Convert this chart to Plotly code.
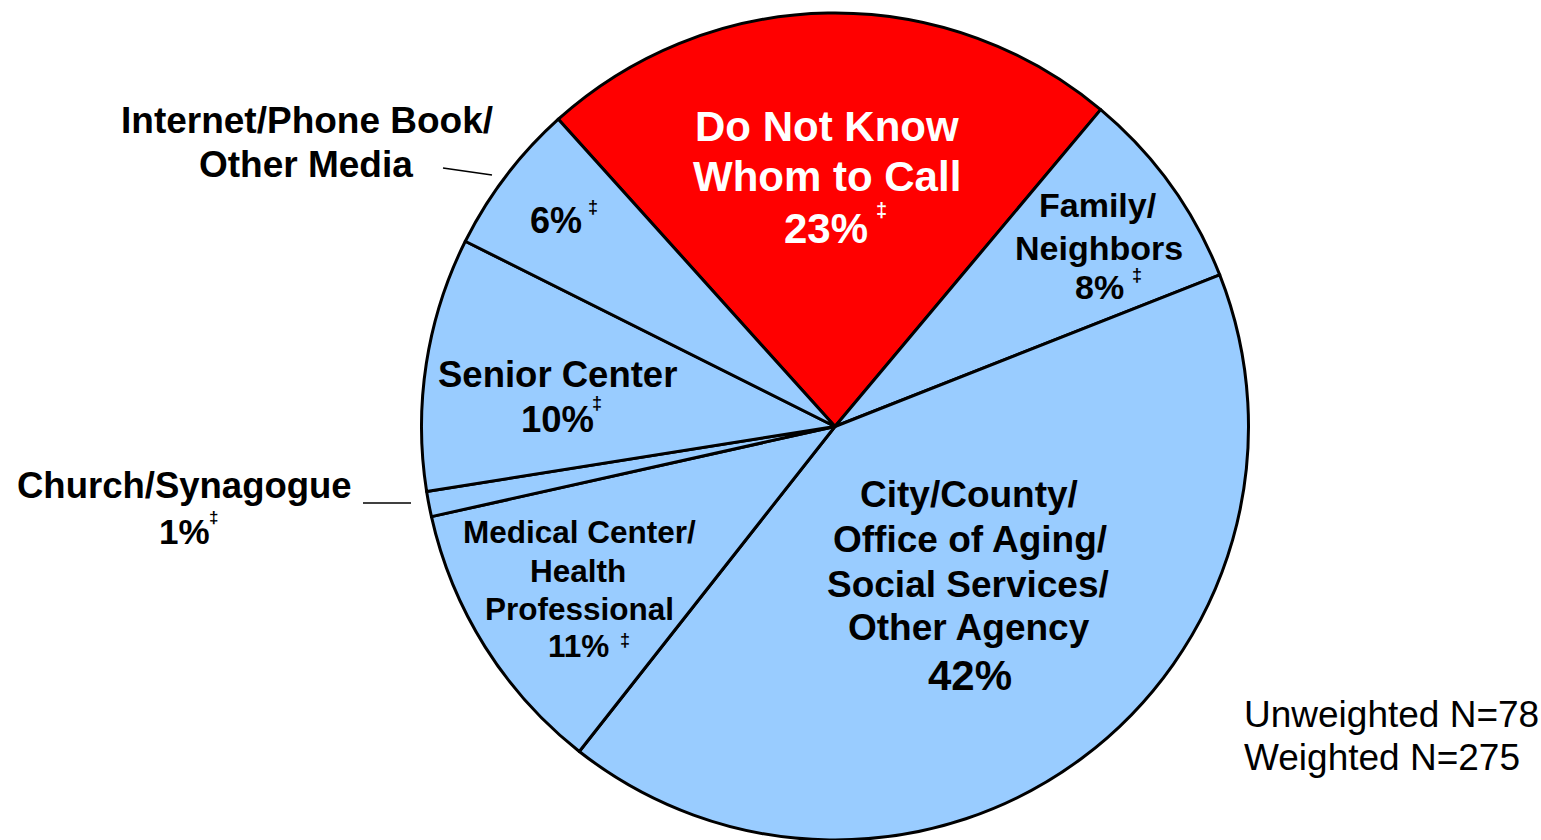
import plotly.graph_objects as go

# ---- data ----
categories = [
    "Do Not Know Whom to Call",
    "Family/Neighbors",
    "City/County/Office of Aging/Social Services/Other Agency",
    "Medical Center/Health Professional",
    "Church/Synagogue",
    "Senior Center",
    "Internet/Phone Book/Other Media",
]
values = [23, 8, 42, 11, 1, 10, 6]
slice_colors = ["#FF0000", "#99CCFF", "#99CCFF", "#99CCFF", "#99CCFF", "#99CCFF", "#99CCFF"]
sample_notes = ["Unweighted N=78", "Weighted N=275"]

W, H = 1541, 840
FONT = "Liberation Sans, Arial, sans-serif"

fig = go.Figure()
fig.add_trace(go.Pie(
    labels=categories,
    values=values,
    sort=False,
    direction="clockwise",
    rotation=-42,
    textinfo="none",
    hoverinfo="label+percent",
    marker=dict(colors=slice_colors, line=dict(color="black", width=3)),
    domain=dict(x=[421 / W, 1249 / W], y=[0, 1 - 13 / H]),
    showlegend=False,
))

annotations = []


def line(text, xc, baseline, size, color="black", bold=True, xanchor="center"):
    yc = baseline - 0.35 * size
    t = f"<b>{text}</b>" if bold else text
    annotations.append(dict(
        text=t, x=xc / W, y=1 - yc / H, xref="paper", yref="paper",
        xanchor=xanchor, yanchor="middle", showarrow=False,
        font=dict(family=FONT, size=size, color=color),
    ))


def dagger(xc, yc, size=18, color="black"):
    annotations.append(dict(
        text="<b>\u2021</b>", x=xc / W, y=1 - yc / H, xref="paper", yref="paper",
        xanchor="center", yanchor="middle", showarrow=False,
        font=dict(family=FONT, size=size, color=color),
    ))


pct = [f"{v}%" for v in values]

# Do Not Know
line("Do Not Know", 827, 141, 42, "white")
line("Whom to Call", 827, 191, 42, "white")
line(pct[0], 826, 243, 42, "white")
dagger(881, 210, 20, "white")

# Family / Neighbors
line("Family/", 1098, 217, 34)
line("Neighbors", 1099, 260, 34)
line(pct[1], 1099, 299, 34)
dagger(1137, 275)

# City / County
line("City/County/", 969, 507, 37)
line("Office of Aging/", 970, 552, 37)
line("Social Services/", 968, 597, 37)
line("Other Agency", 969, 640, 37)
line(pct[2], 970, 690, 42)

# Medical
line("Medical Center/", 579, 543, 31.5)
line("Health", 578, 582, 31.5)
line("Professional", 579, 620, 31.5)
line(pct[3], 578, 657, 31.5)
dagger(625, 640)

# Senior Center
line("Senior Center", 557, 387, 36.5)
line(pct[5], 557, 432, 36.5)
dagger(597, 403)

# Internet
line("Internet/Phone Book/", 307, 133, 37)
line("Other Media", 306, 177, 37)
line(pct[6], 556, 233, 36)
dagger(593, 207)

# Church
line("Church/Synagogue", 184, 498, 36.5)
line(pct[4], 184, 544, 35)
dagger(213, 517, 17)

# Sample size notes
line(sample_notes[0], 1242, 727, 37, bold=False, xanchor="left")
line(sample_notes[1], 1242, 770, 37, bold=False, xanchor="left")

shapes = [
    dict(type="line", xref="paper", yref="paper",
         x0=443 / W, y0=1 - 168 / H, x1=492 / W, y1=1 - 175 / H,
         line=dict(color="black", width=1.5)),
    dict(type="line", xref="paper", yref="paper",
         x0=363 / W, y0=1 - 503 / H, x1=411 / W, y1=1 - 503 / H,
         line=dict(color="black", width=1.5)),
]

fig.update_layout(
    width=W, height=H,
    margin=dict(l=0, r=0, t=0, b=0),
    paper_bgcolor="white", plot_bgcolor="white",
    annotations=annotations, shapes=shapes,
    font=dict(family=FONT),
)

fig.write_html(
    "out.html",
    config={"displayModeBar": False},
    post_script="document.body.style.margin='0';document.body.style.overflow='hidden';document.documentElement.style.overflow='hidden';",
)
